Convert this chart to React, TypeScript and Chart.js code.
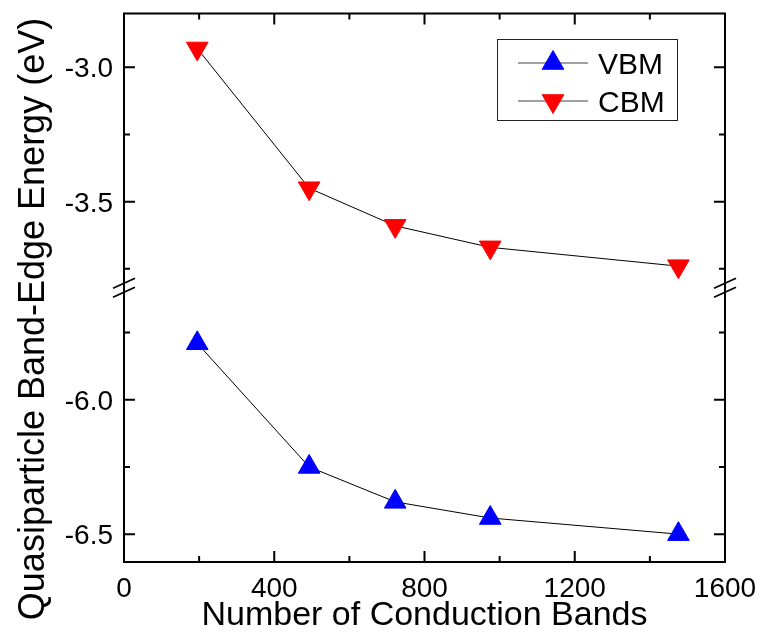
import React, { useEffect, useRef } from 'react';
import { Chart, registerables } from 'chart.js';

Chart.register(...registerables);

// ---- data ----
const bandCounts = [195, 493, 722, 975, 1476];
const vbmEnergies = [-5.79, -6.25, -6.38, -6.44, -6.5];
const cbmEnergies = [-2.93, -3.45, -3.59, -3.67, -3.74];
const seriesLabels = ['VBM', 'CBM'];

const xMajorTicks = [0, 400, 800, 1200, 1600];
const xMinorTicks = [200, 600, 1000, 1400];
const upperMajorTicks = [-3.0, -3.5];
const upperMinorTicks = [-3.25, -3.75];
const lowerMajorTicks = [-6.0, -6.5];
const lowerMinorTicks = [-5.75, -6.25];
const xRange = [0, 1600];
const upperRange = [-3.8185, -2.8];
const lowerRange = [-6.6037, -5.5815];

const xTitle = 'Number of Conduction Bands';
const yTitle = 'Quasiparticle Band-Edge Energy (eV)';

const FONT = "'Liberation Sans', Arial, Helvetica, sans-serif";

function triPath(ctx: CanvasRenderingContext2D, x: number, y: number, r: number, rotDeg: number) {
  let rad = (rotDeg * Math.PI) / 180;
  ctx.beginPath();
  for (let i = 0; i < 3; i++) {
    const px = x + Math.sin(rad) * r;
    const py = y - Math.cos(rad) * r;
    if (i === 0) ctx.moveTo(px, py);
    else ctx.lineTo(px, py);
    rad += (2 * Math.PI) / 3;
  }
  ctx.closePath();
}

const decorPlugin = {
  id: 'decor',
  afterDatasetsDraw(chart: any) {
    const ctx: CanvasRenderingContext2D = chart.ctx;
    const { left, right, top, bottom } = chart.chartArea;
    const xs = chart.scales.x;
    const yt = chart.scales.yTop;
    const yb = chart.scales.yBot;
    ctx.save();
    ctx.strokeStyle = '#000';
    ctx.fillStyle = '#000';
    ctx.lineWidth = 2;
    ctx.lineCap = 'butt';

    // frame
    ctx.strokeRect(left, top, right - left, bottom - top);

    const MAJ = 11;
    const MIN = 6;
    const xTick = (v: number, len: number) => {
      const px = xs.getPixelForValue(v);
      ctx.beginPath();
      ctx.moveTo(px, bottom);
      ctx.lineTo(px, bottom - len);
      ctx.moveTo(px, top);
      ctx.lineTo(px, top + len);
      ctx.stroke();
    };
    xMajorTicks.forEach((v) => xTick(v, MAJ));
    xMinorTicks.forEach((v) => xTick(v, MIN));

    const yTick = (scale: any, v: number, len: number) => {
      const py = scale.getPixelForValue(v);
      ctx.beginPath();
      ctx.moveTo(left, py);
      ctx.lineTo(left + len, py);
      ctx.moveTo(right, py);
      ctx.lineTo(right - len, py);
      ctx.stroke();
    };
    upperMajorTicks.forEach((v) => yTick(yt, v, MAJ));
    upperMinorTicks.forEach((v) => yTick(yt, v, MIN));
    lowerMajorTicks.forEach((v) => yTick(yb, v, MAJ));
    lowerMinorTicks.forEach((v) => yTick(yb, v, MIN));

    // axis break marks
    const yBreak = (yt.bottom + yb.top) / 2 + 0.5;
    ctx.lineWidth = 1.8;
    [left, right].forEach((ax) => {
      [-4.5, 4.5].forEach((off) => {
        ctx.beginPath();
        ctx.moveTo(ax - 11, yBreak + off + 5);
        ctx.lineTo(ax + 11, yBreak + off - 5);
        ctx.stroke();
      });
    });

    // tick labels
    ctx.font = `28px ${FONT}`;
    ctx.textBaseline = 'alphabetic';
    ctx.textAlign = 'center';
    xMajorTicks.forEach((v) => {
      ctx.fillText(String(v), xs.getPixelForValue(v), 597);
    });
    ctx.textAlign = 'right';
    upperMajorTicks.forEach((v) => {
      ctx.fillText(v.toFixed(1), 113, yt.getPixelForValue(v) + 10);
    });
    lowerMajorTicks.forEach((v) => {
      ctx.fillText(v.toFixed(1), 113, yb.getPixelForValue(v) + 10);
    });

    // axis titles
    ctx.font = `34px ${FONT}`;
    ctx.textAlign = 'center';
    ctx.fillText(xTitle, (left + right) / 2, 625);
    ctx.save();
    ctx.font = `36px ${FONT}`;
    ctx.translate(44, 319);
    ctx.rotate(-Math.PI / 2);
    ctx.fillText(yTitle, 0, 0);
    ctx.restore();

    // legend
    ctx.lineWidth = 1;
    ctx.strokeStyle = '#222';
    ctx.strokeRect(497.5, 39.5, 180, 81);
    const rows = [
      { ds: chart.data.datasets[0], y: 63, rot: 0 },
      { ds: chart.data.datasets[1], y: 101, rot: 180 },
    ];
    ctx.font = `30px ${FONT}`;
    ctx.textAlign = 'left';
    rows.forEach((r) => {
      ctx.strokeStyle = '#808080';
      ctx.lineWidth = 1.5;
      ctx.beginPath();
      ctx.moveTo(518, r.y);
      ctx.lineTo(588, r.y);
      ctx.stroke();
      triPath(ctx, 553, r.y, 12.5, r.rot);
      ctx.fillStyle = r.ds.pointBackgroundColor;
      ctx.fill();
      ctx.strokeStyle = r.ds.pointBorderColor;
      ctx.lineWidth = 1;
      ctx.stroke();
      ctx.fillStyle = '#000';
      ctx.fillText(r.ds.label, 598, r.y + 11);
    });
    ctx.restore();
  },
};

export default function App() {
  const canvasRef = useRef<HTMLCanvasElement | null>(null);

  useEffect(() => {
    document.body.style.margin = '0';
    const canvas = canvasRef.current;
    if (!canvas) return;
    const noGrid = { display: false, drawTicks: false };
    const chart = new Chart(canvas, {
      type: 'line',
      data: {
        datasets: [
          {
            label: seriesLabels[0],
            data: bandCounts.map((x, i) => ({ x, y: vbmEnergies[i] })),
            yAxisID: 'yBot',
            borderColor: '#000',
            borderWidth: 1,
            pointStyle: 'triangle',
            pointRadius: 12.5,
            pointBackgroundColor: '#0000ff',
            pointBorderColor: '#0000ff',
            pointBorderWidth: 1,
            pointRotation: 0,
            fill: false,
            tension: 0,
          },
          {
            label: seriesLabels[1],
            data: bandCounts.map((x, i) => ({ x, y: cbmEnergies[i] })),
            yAxisID: 'yTop',
            borderColor: '#000',
            borderWidth: 1,
            pointStyle: 'triangle',
            pointRadius: 12.5,
            pointBackgroundColor: '#ff0000',
            pointBorderColor: '#ff0000',
            pointBorderWidth: 1,
            pointRotation: 180,
            fill: false,
            tension: 0,
          },
        ],
      },
      options: {
        animation: false,
        responsive: false,
        maintainAspectRatio: false,
        devicePixelRatio: 1,
        layout: { padding: { left: 0, top: 11, right: 36, bottom: 0 } },
        plugins: {
          legend: { display: false },
          title: { display: false },
          tooltip: { enabled: false },
        },
        scales: {
          x: {
            type: 'linear',
            position: 'bottom',
            min: xRange[0],
            max: xRange[1],
            grid: noGrid,
            border: { display: false },
            ticks: { display: false },
            afterFit(s: any) {
              s.height = 80;
              s.paddingLeft = 0;
              s.paddingRight = 0;
            },
          },
          yBot: {
            type: 'linear',
            position: 'left',
            stack: 'energy',
            stackWeight: lowerRange[1] - lowerRange[0],
            min: lowerRange[0],
            max: lowerRange[1],
            grid: noGrid,
            border: { display: false },
            ticks: { display: false },
            afterFit(s: any) {
              s.width = 124;
              s.paddingTop = 0;
              s.paddingBottom = 0;
            },
          },
          yTop: {
            type: 'linear',
            position: 'left',
            stack: 'energy',
            stackWeight: upperRange[1] - upperRange[0],
            min: upperRange[0],
            max: upperRange[1],
            grid: noGrid,
            border: { display: false },
            ticks: { display: false },
            afterFit(s: any) {
              s.width = 124;
              s.paddingTop = 0;
              s.paddingBottom = 0;
            },
          },
        },
      } as any,
      plugins: [decorPlugin],
    });
    return () => chart.destroy();
  }, []);

  return (
    <div style={{ position: 'absolute', left: 0, top: 0, width: 761, height: 642, background: '#fff' }}>
      <canvas ref={canvasRef} width={761} height={642} style={{ width: 761, height: 642, display: 'block' }} />
    </div>
  );
}
